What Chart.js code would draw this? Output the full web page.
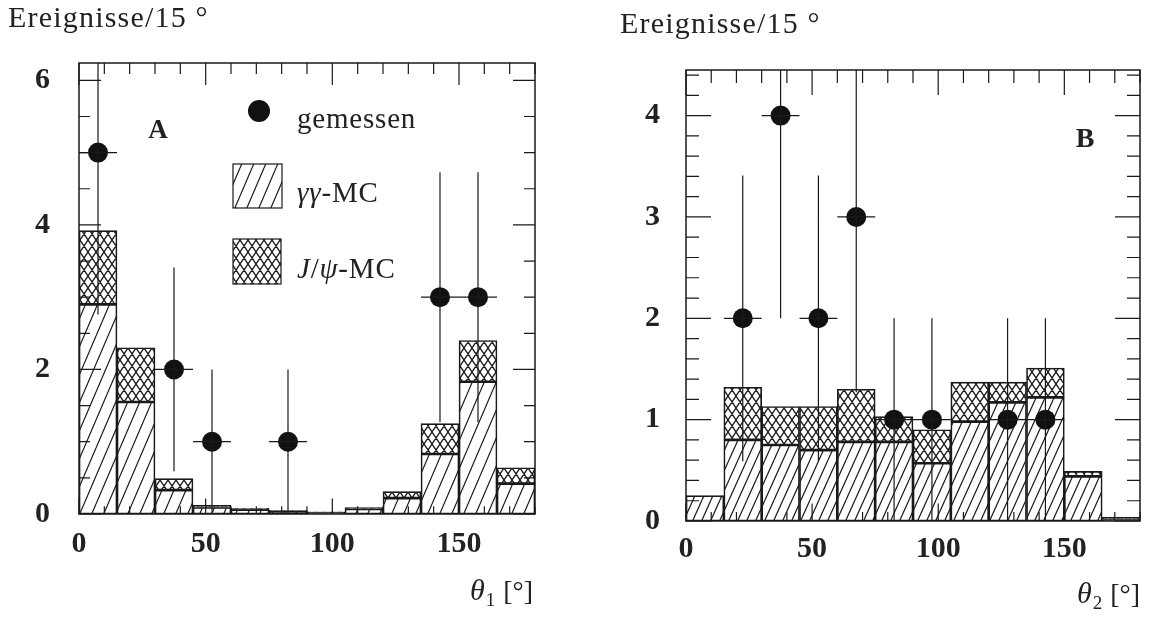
<!DOCTYPE html>
<html>
<head>
<meta charset="utf-8">
<script src="https://cdn.jsdelivr.net/npm/chart.js@4.4.0/dist/chart.umd.min.js"></script>
<style>
  html, body { margin: 0; padding: 0; background: #fff; }
  #wrap { position: relative; width: 1152px; height: 619px; background: #fff; }
  canvas { position: absolute; top: 0; }
  #chartA { left: 0; }
  #chartB { left: 576px; }
</style>
</head>
<body>
<div id="wrap">
  <canvas id="chartA" width="576" height="619"></canvas>
  <canvas id="chartB" width="576" height="619"></canvas>
</div>
<script>
// 15 degree bins from 0 to 180
const binCentres = [7.5, 22.5, 37.5, 52.5, 67.5, 82.5, 97.5, 112.5, 127.5, 142.5, 157.5, 172.5];
const xTickLabels = [0, 50, 100, 150];

// theta_1: gamma-gamma MC and gamma-gamma + J/psi MC (stack top)
const ggMcA = [2.9, 1.55, 0.33, 0.09, 0.06, 0.04, 0.02, 0.07, 0.22, 0.83, 1.83, 0.42];
const mcSumA = [3.92, 2.3, 0.49, 0.12, 0.08, 0.05, 0.03, 0.09, 0.31, 1.25, 2.4, 0.64];
const measAngleA = [7.5, 37.5, 52.5, 82.5, 142.5, 157.5];
const measCountA = [5, 2, 1, 1, 3, 3];
const measErrA = [2.24, 1.41, 1, 1, 1.73, 1.73];
const yTickLabelsA = [0, 2, 4, 6];

// theta_2
const ggMcB = [0.25, 0.8, 0.75, 0.7, 0.78, 0.78, 0.57, 0.98, 1.17, 1.22, 0.44, 0.015];
const mcSumB = [0.25, 1.32, 1.13, 1.13, 1.3, 1.03, 0.9, 1.37, 1.37, 1.51, 0.49, 0.035];
const measAngleB = [22.5, 37.5, 52.5, 67.5, 82.5, 97.5, 127.5, 142.5];
const measCountB = [2, 4, 2, 3, 1, 1, 1, 1];
const measErrB = [1.41, 2, 1.41, 1.73, 1, 1, 1, 1];
const yTickLabelsB = [0, 1, 2, 3, 4];

const SERIF = '"Liberation Serif", "Times New Roman", serif';
const INK = '#1a1a1a';

const panels = {
  chartA: {
    gg: ggMcA, sum: mcSumA, angle: measAngleA, count: measCountA, err: measErrA,
    yTicks: yTickLabelsA, yMax: 6.24,
    padding: { left: 0, top: 63, right: 41, bottom: 0 },
    yWidth: 79, xHeight: 105, yPad: 29, xPad: 12,
    hatch: [12, 28], cross: [8, 12],
    xMinor: 10, xMajor: 50, yMinor: 0.5, yMajor: 2,
    minorLen: 11, majorLen: 22,
    title: { x: 8, y: 27 },
    axisTitle: { x: 470, y: 600, sub: '1' },
    letter: { t: 'A', x: 158, y: 131, font: 'bold 27px ' + SERIF },
    legend: true
  },
  chartB: {
    gg: ggMcB, sum: mcSumB, angle: measAngleB, count: measCountB, err: measErrB,
    yTicks: yTickLabelsB, yMax: 4.45,
    padding: { left: 0, top: 70, right: 12, bottom: 0 },
    yWidth: 110, xHeight: 98, yPad: 26, xPad: 10,
    hatch: [9, 20], cross: [8, 12],
    xMinor: 10, xMajor: 50, yMinor: 0.2, yMajor: 1,
    minorLen: 13, majorLen: 25,
    title: { x: 44, y: 33 },
    axisTitle: { x: 501, y: 603, sub: '2' },
    letter: { t: 'B', x: 509, y: 140, font: '600 28px ' + SERIF },
    legend: false
  }
};

// diagonal line tile; cross adds the mirrored family
function makeHatch(ctx, w, h, cross) {
  const tile = document.createElement('canvas');
  tile.width = w; tile.height = h;
  const g = tile.getContext('2d');
  g.strokeStyle = INK;
  g.lineWidth = cross ? 1.3 : 1.2;
  g.beginPath();
  for (let k = -1; k <= 1; k++) {
    g.moveTo(k * w, h); g.lineTo(k * w + w, 0);
    if (cross) { g.moveTo(k * w, 0); g.lineTo(k * w + w, h); }
  }
  g.stroke();
  return ctx.createPattern(tile, 'repeat');
}

function drawRuns(ctx, x, y, runs) {
  ctx.textAlign = 'left';
  ctx.textBaseline = 'alphabetic';
  for (const r of runs) {
    ctx.font = r.font;
    ctx.fillText(r.t, x, y + (r.dy || 0));
    x += ctx.measureText(r.t).width + (r.gap || 0);
  }
}

const decor = {
  id: 'decor',
  afterDraw(chart) {
    const p = panels[chart.canvas.id];
    const ctx = chart.ctx;
    const { left, right, top, bottom } = chart.chartArea;
    const xs = chart.scales.x, ys = chart.scales.y;

    // error bars
    ctx.save();
    ctx.beginPath();
    ctx.rect(left, top, right - left, bottom - top);
    ctx.clip();
    ctx.strokeStyle = INK;
    ctx.lineWidth = 1.2;
    ctx.beginPath();
    p.angle.forEach((a, i) => {
      const px = xs.getPixelForValue(a);
      const py = ys.getPixelForValue(p.count[i]);
      ctx.moveTo(px, ys.getPixelForValue(p.count[i] - p.err[i]));
      ctx.lineTo(px, ys.getPixelForValue(p.count[i] + p.err[i]));
      ctx.moveTo(xs.getPixelForValue(a - 7.5), py);
      ctx.lineTo(xs.getPixelForValue(a + 7.5), py);
    });
    ctx.stroke();
    ctx.restore();

    // frame with inward ticks on all sides
    ctx.save();
    ctx.strokeStyle = INK;
    ctx.lineWidth = 1.5;
    ctx.strokeRect(left, top, right - left, bottom - top);
    ctx.lineWidth = 1.2;
    ctx.beginPath();
    for (let k = 0; k * p.xMinor <= 180; k++) {
      const v = k * p.xMinor;
      const px = xs.getPixelForValue(v);
      const len = v % p.xMajor === 0 ? p.majorLen : p.minorLen;
      ctx.moveTo(px, bottom); ctx.lineTo(px, bottom - len * 0.7);
      ctx.moveTo(px, top); ctx.lineTo(px, top + len);
    }
    for (let k = 0; k * p.yMinor <= p.yMax + 1e-9; k++) {
      const v = k * p.yMinor;
      const py = ys.getPixelForValue(v);
      const q = v / p.yMajor;
      const len = Math.abs(q - Math.round(q)) < 1e-6 ? p.majorLen : p.minorLen;
      ctx.moveTo(left, py); ctx.lineTo(left + len, py);
      ctx.moveTo(right, py); ctx.lineTo(right - len, py);
    }
    ctx.stroke();

    // texts
    ctx.fillStyle = '#222';
    ctx.letterSpacing = '1.2px';
    drawRuns(ctx, p.title.x, p.title.y, [{ t: 'Ereignisse/15 °', font: '30px ' + SERIF }]);
    ctx.letterSpacing = '0px';
    drawRuns(ctx, p.axisTitle.x, p.axisTitle.y, [
      { t: 'θ', font: 'italic 30px ' + SERIF, gap: 1 },
      { t: p.axisTitle.sub, font: '19px ' + SERIF, dy: 6, gap: 8 },
      { t: '[°]', font: '28px ' + SERIF }
    ]);
    ctx.font = p.letter.font;
    ctx.textAlign = 'center';
    ctx.textBaseline = 'middle';
    ctx.fillText(p.letter.t, p.letter.x, p.letter.y);

    if (p.legend) {
      ctx.fillStyle = '#111';
      ctx.beginPath();
      ctx.arc(259, 111, 11, 0, Math.PI * 2);
      ctx.fill();
      ctx.lineWidth = 1.2;
      ctx.strokeStyle = INK;
      ctx.fillStyle = chart.data.datasets[2].backgroundColor;
      ctx.fillRect(233, 164, 49, 44);
      ctx.strokeRect(233, 164, 49, 44);
      ctx.fillStyle = chart.data.datasets[1].backgroundColor;
      ctx.fillRect(233, 239, 48, 45);
      ctx.strokeRect(233, 239, 48, 45);
      ctx.fillStyle = '#222';
      ctx.letterSpacing = '0.8px';
      drawRuns(ctx, 297, 128, [{ t: 'gemessen', font: '29px ' + SERIF }]);
      drawRuns(ctx, 297, 202, [
        { t: 'γγ', font: 'italic 29px ' + SERIF },
        { t: '-MC', font: '29px ' + SERIF }
      ]);
      drawRuns(ctx, 297, 278, [
        { t: 'J', font: 'italic 29px ' + SERIF },
        { t: '/', font: '29px ' + SERIF },
        { t: 'ψ', font: 'italic 29px ' + SERIF },
        { t: '-MC', font: '29px ' + SERIF }
      ]);
      ctx.letterSpacing = '0px';
    }
    ctx.restore();
  }
};

function histChart(id) {
  const p = panels[id];
  const canvas = document.getElementById(id);
  const ctx = canvas.getContext('2d');
  const barStyle = {
    borderColor: INK, borderWidth: 1, borderSkipped: false,
    grouped: false, barPercentage: 1, categoryPercentage: 1
  };
  return new Chart(canvas, {
    type: 'bar',
    data: {
      datasets: [
        {
          type: 'scatter', label: 'gemessen', order: 0,
          data: p.angle.map((x, i) => ({ x, y: p.count[i] })),
          pointRadius: 10, pointHoverRadius: 10,
          pointBackgroundColor: '#111', pointBorderWidth: 0
        },
        Object.assign({
          label: 'J/ψ-MC', order: 1,
          data: binCentres.map((x, i) => ({ x, y: [p.gg[i], p.sum[i]] })),
          backgroundColor: makeHatch(ctx, p.cross[0], p.cross[1], true)
        }, barStyle),
        Object.assign({
          label: 'γγ-MC', order: 2,
          data: binCentres.map((x, i) => ({ x, y: p.gg[i] })),
          backgroundColor: makeHatch(ctx, p.hatch[0], p.hatch[1], false)
        }, barStyle)
      ]
    },
    options: {
      responsive: false,
      animation: false,
      events: [],
      layout: { padding: p.padding },
      plugins: { legend: { display: false }, tooltip: { enabled: false } },
      scales: {
        x: {
          type: 'linear', min: 0, max: 180, offset: false,
          grid: { display: false, drawTicks: false },
          border: { display: false },
          afterBuildTicks: s => { s.ticks = xTickLabels.map(v => ({ value: v })); },
          afterFit: s => { s.height = p.xHeight; },
          ticks: {
            autoSkip: false, maxRotation: 0, padding: p.xPad, color: '#222',
            font: { family: SERIF, size: 30, weight: 'bold' }
          }
        },
        y: {
          min: 0, max: p.yMax,
          grid: { display: false, drawTicks: false },
          border: { display: false },
          afterBuildTicks: s => { s.ticks = p.yTicks.map(v => ({ value: v })); },
          afterFit: s => { s.width = p.yWidth; },
          ticks: {
            padding: p.yPad, color: '#222',
            font: { family: SERIF, size: 30, weight: 'bold' }
          }
        }
      }
    },
    plugins: [decor]
  });
}

histChart('chartA');
histChart('chartB');
</script>
</body>
</html>
